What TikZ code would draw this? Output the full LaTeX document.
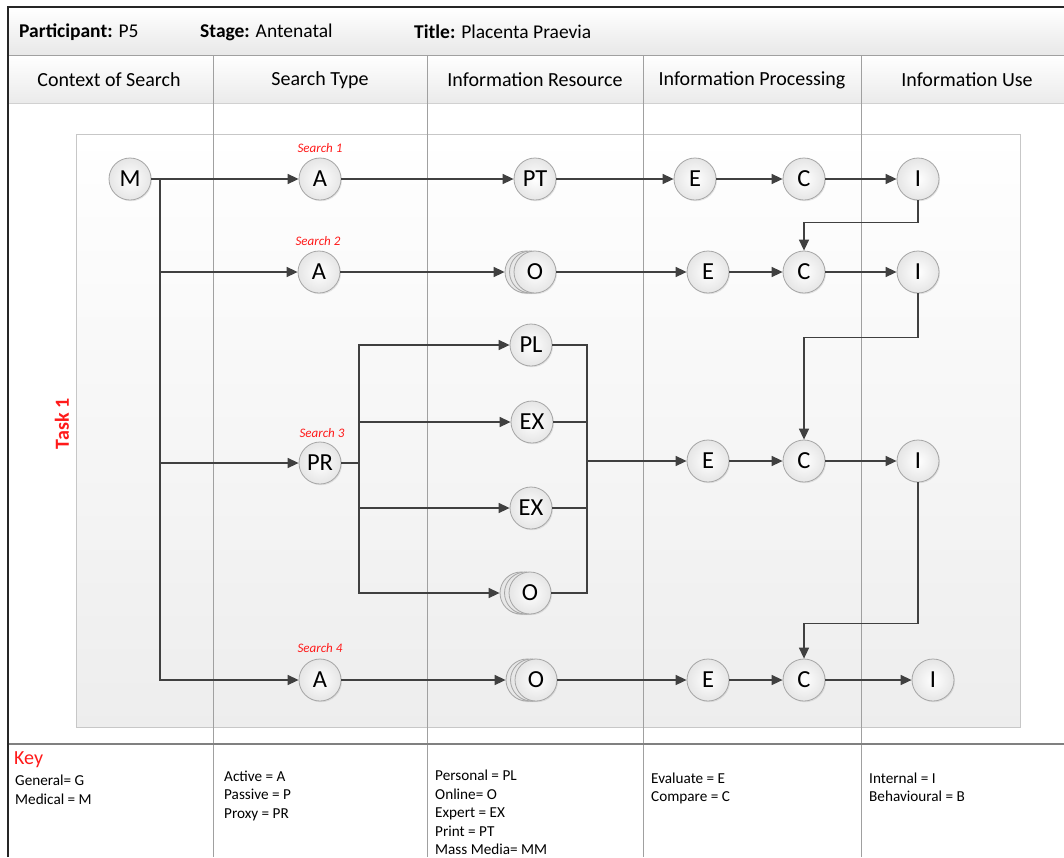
\documentclass[tikz,border=0pt]{standalone}
\usepackage{fontspec}
\setmainfont{Carlito}
\usetikzlibrary{arrows.meta,shadows}
\definecolor{ink}{HTML}{404040}
\definecolor{rulegray}{HTML}{A0A0A0}
\definecolor{keyred}{HTML}{FF1A1A}
\begin{document}
\begin{tikzpicture}[x=1pt,y=-1pt,
  bub/.style={circle, minimum size=42pt, inner sep=0pt, draw=black!35, line width=0.8pt,
    shade, inner color=white, outer color=black!10,
    drop shadow={opacity=0.18, shadow xshift=1pt, shadow yshift=-1.2pt},
    font=\fontsize{24.5}{24.5}\selectfont, text=black},
  link/.style={draw=ink, line width=1.5pt, -{Triangle[length=11pt,width=10pt]}},
  wire/.style={draw=ink, line width=1.5pt},
  searchlbl/.style={text=keyred, inner sep=0pt, font=\fontsize{13}{13}\selectfont\itshape},
  colhead/.style={inner sep=0pt, font=\fontsize{20}{20}\selectfont},
  toptext/.style={anchor=west, inner sep=0pt, font=\fontsize{19.5}{20}\selectfont},
  keyline/.style={anchor=base west, inner sep=0pt, font=\fontsize{15.2}{15}\selectfont},
]
\useasboundingbox (0,0) rectangle (1064,857);
\fill[white] (0,0) rectangle (1064,857);

% header bands
\shade[top color=white, bottom color=black!9] (8,8) rectangle (1064,55);
\shade[top color=white, bottom color=black!8] (8,55) rectangle (1064,103);
\draw[black!18, line width=1pt] (8,103) -- (1064,103);

% task area
\shadedraw[top color=white, bottom color=black!7, draw=black!22, line width=0.8pt] (76,134) rectangle (1020,727);

% column rules and key separator
\foreach \x in {213,427,643,861} \draw[rulegray, line width=1pt] (\x,55) -- (\x,857);
\draw[rulegray, line width=1pt] (8,55) -- (1064,55);
\draw[black!50, line width=1.5pt] (8,744) -- (1064,744);

% outer frame
\draw[black!85, line width=2pt] (8,857) -- (8,7) -- (1064,7);

% header texts
\node[toptext] (part) at (19,32) {\textbf{Participant:} P5};
\node[toptext] (stage) at (200,32) {\textbf{Stage:} Antenatal};
\node[toptext] (ttl) at (414,32) {\textbf{Title:} Placenta Praevia};

\node[colhead] (h1) at (109,80) {Context of Search};
\node[colhead] (h2) at (320,80) {Search Type};
\node[colhead] (h3) at (535,80) {Information Resource};
\node[colhead] (h4) at (752,80) {Information Processing};
\node[colhead] (h5) at (967,80) {Information Use};

\node[rotate=90, text=keyred, inner sep=0pt, font=\bfseries\fontsize{20}{20}\selectfont] (task) at (62,424) {Task 1};

% search labels
\node[searchlbl] (s1) at (320,148) {Search 1};
\node[searchlbl] (s2) at (318,241) {Search 2};
\node[searchlbl] (s3) at (322,433) {Search 3};
\node[searchlbl] (s4) at (320,648) {Search 4};

% nodes: row 1
\node[bub] (m)  at (130,179) {M};
\node[bub] (a1) at (320,179) {A};
\node[bub] (pt) at (535,179) {PT};
\node[bub] (e1) at (695,179) {E};
\node[bub] (c1) at (804,179) {C};
\node[bub] (i1) at (918,179) {I};

% row 2
\node[bub] (a2) at (319,272) {A};
\node[bub] (o2b) at (526,272) {};
\node[bub] (o2m) at (530.5,272) {};
\node[bub] (o2) at (535,272) {O};
\node[bub] (e2) at (708,272) {E};
\node[bub] (c2) at (804,272) {C};
\node[bub] (i2) at (918,272) {I};

% row 3
\node[bub] (pr)  at (320,463) {PR};
\node[bub] (pl)  at (531,345) {PL};
\node[bub] (ex1) at (532,422) {EX};
\node[bub] (ex2) at (531,508) {EX};
\node[bub] (o3b) at (521,593) {};
\node[bub] (o3m) at (525.5,593) {};
\node[bub] (o3)  at (530,593) {O};
\node[bub] (e3)  at (708,461) {E};
\node[bub] (c3)  at (804,461) {C};
\node[bub] (i3)  at (918,461) {I};

% row 4
\node[bub] (a4) at (320,680) {A};
\node[bub] (o4b) at (527,680) {};
\node[bub] (o4m) at (531.5,680) {};
\node[bub] (o4) at (536,680) {O};
\node[bub] (e4) at (708,680) {E};
\node[bub] (c4) at (804,680) {C};
\node[bub] (i4) at (933,680) {I};

% connectors from M
\coordinate (mb) at (160,179);
\draw[link] (m.east) -- (a1.west);
\draw[link] (mb) |- (a2.west);
\draw[link] (mb) |- (pr.west);
\draw[link] (mb) |- (a4.west);

% row 1 flow
\draw[link] (a1.east) -- (pt.west);
\draw[link] (pt.east) -- (e1.west);
\draw[link] (e1.east) -- (c1.west);
\draw[link] (c1.east) -- (i1.west);
\draw[link] (i1.south) -- ++(0,22) -| (c2.north);

% row 2 flow
\draw[link] (a2.east) -- (o2b.west);
\draw[link] (o2.east) -- (e2.west);
\draw[link] (e2.east) -- (c2.west);
\draw[link] (c2.east) -- (i2.west);
\draw[link] (i2.south) -- ++(0,44) -| (c3.north);

% row 3: proxy fan-out and merge
\coordinate (pb) at (359,463);
\coordinate (mx) at (587,461);
\draw[wire] (pr.east) -- (pb);
\draw[link] (pb) |- (pl.west);
\draw[link] (pb) |- (ex1.west);
\draw[link] (pb) |- (ex2.west);
\draw[link] (pb) |- (o3b.west);
\draw[wire] (pl.east) -| (mx);
\draw[wire] (ex1.east) -| (mx);
\draw[wire] (ex2.east) -| (mx);
\draw[wire] (o3.east) -| (mx);
\draw[link] (mx) -- (e3.west);
\draw[link] (e3.east) -- (c3.west);
\draw[link] (c3.east) -- (i3.west);
\draw[link] (i3.south) -- ++(0,141) -| (c4.north);

% row 4 flow
\draw[link] (a4.east) -- (o4b.west);
\draw[link] (o4.east) -- (e4.west);
\draw[link] (e4.east) -- (c4.west);
\draw[link] (c4.east) -- (i4.west);

% key
\node[keyline, text=keyred, font=\fontsize{20}{20}\selectfont] (key) at (14,764) {Key};
\node[keyline] (k11) at (15,785) {General= G};
\node[keyline] (k12) at (15,804) {Medical = M};

\node[keyline] (k21) at (224,781) {Active = A};
\node[keyline] (k22) at (224,799) {Passive = P};
\node[keyline] (k23) at (224,818) {Proxy = PR};

\node[keyline] (k31) at (435,780) {Personal = PL};
\node[keyline] (k32) at (435,799) {Online= O};
\node[keyline] (k33) at (435,817) {Expert = EX};
\node[keyline] (k34) at (435,836) {Print = PT};
\node[keyline] (k35) at (435,854) {Mass Media= MM};

\node[keyline] (k41) at (651,783) {Evaluate = E};
\node[keyline] (k42) at (651,801) {Compare = C};

\node[keyline] (k51) at (869,783) {Internal = I};
\node[keyline] (k52) at (869,801) {Behavioural = B};
\end{tikzpicture}
\end{document}
